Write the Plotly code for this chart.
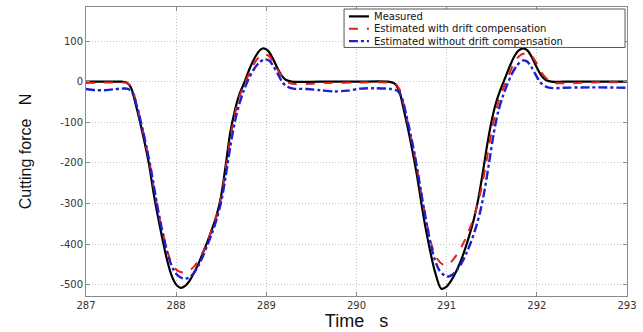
import plotly.graph_objects as go

# ---- data ----
t_meas = [287.0, 287.2, 287.4, 287.45, 287.5, 287.55, 287.6, 287.65, 287.7, 287.75, 287.8, 287.85,
          287.9, 287.95, 288.0, 288.05, 288.1, 288.15, 288.2, 288.25, 288.3, 288.35, 288.4, 288.45,
          288.5, 288.55, 288.6, 288.65, 288.7, 288.76, 288.82, 288.88, 288.93, 288.97, 289.02, 289.07,
          289.12, 289.17, 289.22, 289.28, 289.6, 290.0, 290.35, 290.42, 290.47, 290.52, 290.57, 290.62,
          290.67, 290.72, 290.77, 290.82, 290.87, 290.94, 291.0, 291.05, 291.1, 291.15, 291.2, 291.25,
          291.3, 291.35, 291.4, 291.45, 291.5, 291.55, 291.6, 291.65, 291.7, 291.75, 291.8, 291.85,
          291.9, 291.95, 292.0, 292.05, 292.1, 292.16, 292.3, 292.6, 293.0]
f_meas = [0, 0, 0, -2, -15, -55, -100, -150, -205, -275, -335, -390,
          -440, -478, -500, -508, -503, -490, -470, -447, -420, -392, -362, -328,
          -280, -205, -125, -72, -32, 0, 35, 62, 78, 82, 76, 58,
          35, 15, 4, 0, 0, 0, 0, -4, -20, -65, -115, -170,
          -230, -300, -365, -420, -468, -510, -505, -490, -470, -445, -415, -380,
          -340, -290, -225, -155, -95, -50, -18, 10, 38, 62, 77, 82,
          76, 58, 35, 15, 4, 0, 0, 0, 0]

t_with = [287.0, 287.2, 287.4, 287.46, 287.51, 287.56, 287.61, 287.66, 287.71, 287.76, 287.81, 287.86,
          287.91, 287.96, 288.02, 288.08, 288.14, 288.2, 288.25, 288.3, 288.35, 288.4, 288.45, 288.5,
          288.55, 288.6, 288.65, 288.7, 288.76, 288.82, 288.88, 288.93, 288.98, 289.03, 289.08, 289.13,
          289.18, 289.24, 289.32, 289.5, 289.7, 290.0, 290.35, 290.43, 290.48, 290.53, 290.58, 290.63,
          290.68, 290.73, 290.78, 290.83, 290.89, 290.97, 291.03, 291.08, 291.13, 291.18, 291.23, 291.28,
          291.33, 291.38, 291.43, 291.48, 291.53, 291.58, 291.63, 291.68, 291.73, 291.78, 291.83, 291.88,
          291.93, 291.98, 292.03, 292.08, 292.14, 292.2, 292.35, 292.6, 293.0]
f_with = [-3, -2, -2, -4, -16, -55, -100, -150, -205, -272, -330, -380,
          -423, -452, -466, -470, -466, -455, -440, -418, -392, -362, -330, -285,
          -215, -140, -82, -38, -5, 25, 50, 63, 68, 63, 48, 28,
          10, -2, -6, -5, -3, -2, -2, -5, -20, -63, -112, -165,
          -225, -290, -350, -400, -435, -452, -448, -436, -420, -400, -376, -348,
          -312, -268, -210, -145, -88, -45, -15, 12, 38, 57, 67, 70,
          66, 52, 32, 14, 2, -3, -4, -2, -1]

t_without = [287.0, 287.1, 287.2, 287.3, 287.4, 287.47, 287.52, 287.57, 287.62, 287.67, 287.72, 287.77,
             287.82, 287.87, 287.92, 287.97, 288.02, 288.08, 288.14, 288.2, 288.25, 288.3, 288.35, 288.4,
             288.45, 288.5, 288.55, 288.6, 288.65, 288.7, 288.75, 288.8, 288.86, 288.92, 288.98, 289.03,
             289.08, 289.13, 289.18, 289.23, 289.3, 289.45, 289.6, 289.75, 289.9, 290.05, 290.2, 290.38,
             290.45, 290.5, 290.55, 290.6, 290.65, 290.7, 290.75, 290.8, 290.85, 290.92, 291.0, 291.06,
             291.12, 291.17, 291.22, 291.27, 291.32, 291.37, 291.42, 291.47, 291.52, 291.57, 291.62, 291.67,
             291.72, 291.78, 291.84, 291.89, 291.94, 291.99, 292.04, 292.1, 292.17, 292.3, 292.6, 293.0]
f_without = [-18, -21, -21, -19, -17, -18, -30, -65, -110, -160, -215, -280,
             -340, -392, -435, -463, -478, -485, -483, -470, -452, -428, -400, -372,
             -338, -295, -232, -160, -100, -55, -22, 5, 30, 47, 55, 52,
             38, 18, -2, -12, -17, -18, -21, -24, -22, -17, -16, -18,
             -22, -38, -80, -130, -185, -250, -315, -375, -425, -465, -480, -476,
             -462, -445, -422, -395, -362, -322, -268, -200, -130, -75, -38, -8,
             18, 40, 52, 50, 36, 16, -2, -12, -16, -15, -14, -15]

x_ticks = [287, 288, 289, 290, 291, 292, 293]
y_ticks = [100, 0, -100, -200, -300, -400, -500]

series_names = ["Measured", "Estimated with drift compensation", "Estimated without drift compensation"]
series_colors = ["black", "#e3201b", "#1f1fd0"]
series_dash = ["solid", "dash", "dashdot"]
series_width = [2.2, 2.0, 2.4]

fig = go.Figure()
for tt, ff, nm, col, ds, wd in zip([t_meas, t_with, t_without], [f_meas, f_with, f_without],
                                   series_names, series_colors, series_dash, series_width):
    fig.add_trace(go.Scatter(x=tt, y=ff, mode="lines", name=nm, showlegend=False,
                             line=dict(color=col, width=wd, dash=ds, shape="spline", smoothing=0.8)))

# ---- compact legend box (drawn in paper coordinates) ----
fig.add_shape(type="rect", xref="paper", yref="paper", x0=0.477, x1=0.9964, y0=0.860, y1=0.993,
              line=dict(color="#555555", width=1), fillcolor="white", layer="above")
row_y = [0.9675, 0.9247, 0.8818]
for ry, nm, col, ds, wd in zip(row_y, series_names, series_colors, series_dash, series_width):
    fig.add_shape(type="line", xref="paper", yref="paper", x0=0.486, x1=0.523, y0=ry, y1=ry,
                  line=dict(color=col, width=wd, dash=ds), layer="above")
    fig.add_annotation(xref="paper", yref="paper", x=0.531, y=ry, text=nm, showarrow=False,
                       xanchor="left", yanchor="middle", borderpad=0,
                       font=dict(family="DejaVu Sans", size=10, color="#111111"))

axis_common = dict(showline=True, linecolor="#8a8a8a", linewidth=1, mirror="ticks",
                   ticks="inside", ticklen=4, tickcolor="#8a8a8a",
                   showgrid=True, gridcolor="#c4c4c4", griddash="1px,2px", gridwidth=1,
                   zeroline=False, ticklabeloverflow="allow",
                   tickfont=dict(family="DejaVu Sans", size=10, color="#333333"))

fig.update_layout(
    width=643, height=332,
    margin=dict(l=86, r=8, t=6, b=34),
    paper_bgcolor="white", plot_bgcolor="white",
    xaxis=dict(range=[287, 293], tickvals=x_ticks, ticktext=[str(v) for v in x_ticks],
               title=dict(text="Time\u00a0\u00a0\u00a0s",
                          font=dict(family="Liberation Sans", size=18, color="#111111"),
                          standoff=2),
               **axis_common),
    yaxis=dict(range=[-528, 184], tickvals=y_ticks, ticktext=[str(v) for v in y_ticks],
               title=dict(text="Cutting force\u00a0\u00a0\u00a0N",
                          font=dict(family="Liberation Sans", size=16, color="#111111"),
                          standoff=24),
               **axis_common),
    showlegend=False,
)

fig.write_html("out.html")
